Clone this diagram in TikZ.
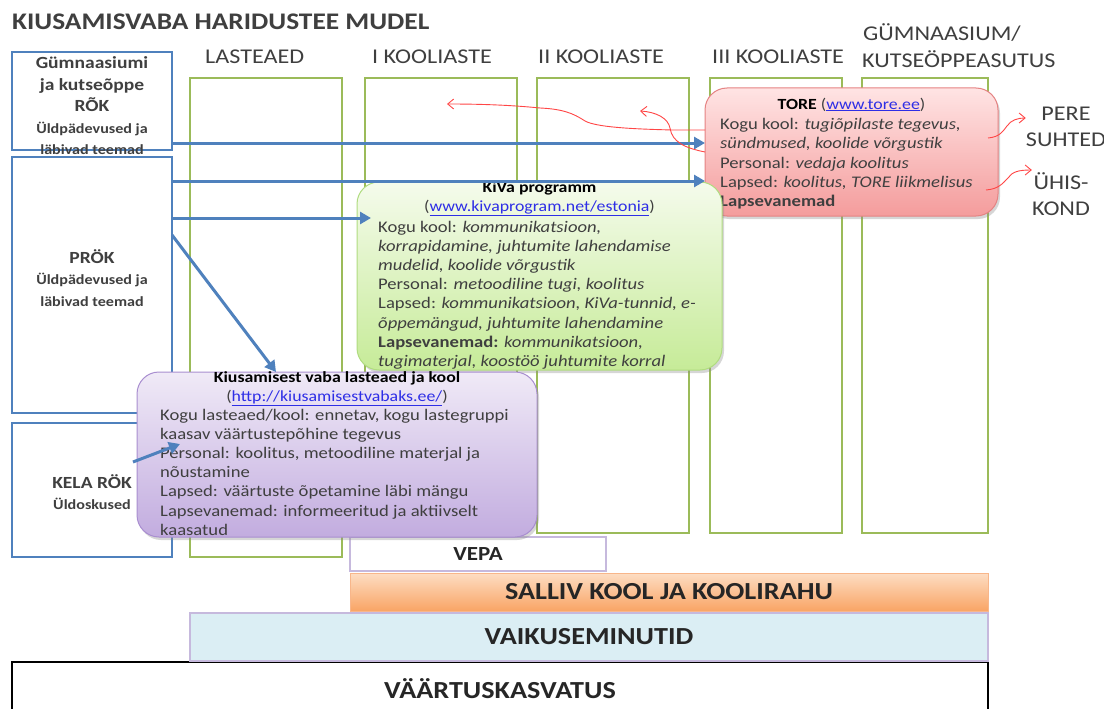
\documentclass[tikz,border=0pt]{standalone}
\usepackage{fontspec}
\setmainfont{Carlito}[FakeStretch=1.15]
\usetikzlibrary{arrows.meta,positioning,shadows,calc}
\definecolor{mblue}{HTML}{4F81BD}
\definecolor{mgreen}{HTML}{9BBB59}
\definecolor{mtext}{HTML}{3F3F3F}
\definecolor{mlink}{HTML}{2E2EE6}
\definecolor{mred}{HTML}{FF4646}
\definecolor{toretop}{HTML}{FFE4E4}\definecolor{torebot}{HTML}{F49C9C}\definecolor{torebd}{HTML}{E58383}
\definecolor{kivatop}{HTML}{F5FBEC}\definecolor{kivabot}{HTML}{C6EB98}\definecolor{kivabd}{HTML}{B0DC80}
\definecolor{kvltop}{HTML}{F0EAF7}\definecolor{kvlbot}{HTML}{C2ACDF}\definecolor{kvlbd}{HTML}{A98ED0}
\definecolor{sallivtop}{HTML}{FDDDC3}\definecolor{sallivbot}{HTML}{F9A465}\definecolor{sallivbd}{HTML}{F8B68A}
\definecolor{vaikfill}{HTML}{DBEEF4}\definecolor{lilabd}{HTML}{C6B9DD}
\newcommand{\fsz}[2]{\fontsize{#1}{#2}\selectfont}
\newcommand{\weblink}[1]{\textcolor{mlink}{\underline{#1}}}

\begin{document}
\begin{tikzpicture}[x=1pt,y=-1pt,
	col/.style={draw=mgreen,line width=2.5pt,inner sep=0pt,outer sep=0pt,anchor=north west},
	lbox/.style={draw=mblue,line width=2.5pt,inner sep=0pt,outer sep=0pt,anchor=north west},
	head/.style={anchor=base west,inner sep=0pt,text=mtext,font=\fsz{21}{26}},
	ltext/.style={align=center,inner sep=0pt,text=mtext,font=\fsz{17}{21.5}\bfseries},
	card/.style={rounded corners=22pt,line width=1pt,inner sep=0pt,outer sep=0pt,
		drop shadow={shadow xshift=2pt,shadow yshift=-3pt,opacity=.35,fill=black!45}},
	ctitle/.style={anchor=north,align=center,inner sep=0pt,text=mtext,font=\fsz{15.5}{19.2}},
	cbody/.style={anchor=north west,align=left,inner sep=0pt,text=mtext,font=\fsz{16.2}{19.2}},
	bar/.style={anchor=north west,inner sep=0pt,outer sep=0pt,text=black!85,font=\fsz{24.5}{28}\bfseries},
	barrow/.style={draw=mblue,line width=3pt,-{Triangle[length=11pt,width=12pt]}},
	rarrow/.style={draw=mred,line width=.9pt,-{Straight Barb[length=6pt,width=10pt]}}]
	\fill[white] (0,0) rectangle (1104,709); \useasboundingbox (0,0) rectangle (1104,709);
	\node[anchor=base west,inner sep=0pt,text=mtext,font=\fsz{23.8}{28}\bfseries] (title) at (12,30) {KIUSAMISVABA HARIDUSTEE MUDEL};
	\node[head] (hlast) at (205,64) {LASTEAED};
	\node[head] (hk1) at (372,64) {I KOOLIASTE};
	\node[head] (hk2) at (538,64) {II KOOLIASTE};
	\node[head] (hk3) at (712,64) {III KOOLIASTE};
	\node[head] (hgym) at (863,41) {GÜMNAASIUM/};
	\node[head] (hkutse) at (862,67) {KUTSEÖPPEASUTUS};
	\node[col,minimum width=152pt,minimum height=479pt] (lasteaed) at (190,78) {};
	\node[col,minimum width=152pt,minimum height=455pt] (kool1) at (365,78) {};
	\node[col,minimum width=152pt,minimum height=455pt] (kool2) at (537,78) {};
	\node[col,minimum width=132pt,minimum height=455pt] (kool3) at (710,78) {};
	\node[col,minimum width=126pt,minimum height=455pt] (gymcol) at (862,78) {};
	\node[lbox,minimum width=160pt,minimum height=98pt] (gym) at (12,52) {};
	\node[lbox,minimum width=160pt,minimum height=256pt] (prok) at (12,157) {};
	\node[lbox,minimum width=160pt,minimum height=134pt] (kela) at (12,423) {};
	\node[ltext] (gymT) at (92,106) {Gümnaasiumi\\ja kutseõppe\\RÕK\\{\fsz{14}{19}Üldpädevused ja}\\{\fsz{14}{19}läbivad teemad}};
	\node[ltext] (prokT) at (92,278) {PRÖK\\{\fsz{14}{19}Üldpädevused ja}\\{\fsz{14}{19}läbivad teemad}};
	\node[ltext] (kelaT) at (92,492) {KELA RÖK\\{\fsz{14}{19}Üldoskused}};
	\node[bar,draw=black,line width=2pt,fill=white,minimum width=976pt,minimum height=54pt] (vaartus) at (12,662) {VÄÄRTUSKASVATUS};
	\node[bar,draw=lilabd,line width=1.5pt,fill=vaikfill,minimum width=798pt,minimum height=48pt] (vaikus) at (190,613) {VAIKUSEMINUTID};
	\node[bar,draw=sallivbd,line width=1pt,top color=sallivtop,bottom color=sallivbot,minimum width=638pt,minimum height=38pt] (salliv) at (350,573) {SALLIV KOOL JA KOOLIRAHU};
	\node[bar,draw=lilabd,line width=1.5pt,fill=white,minimum width=256pt,minimum height=34pt,font=\fsz{20}{24}\bfseries] (vepa) at (350,537) {VEPA};
	\node[card,draw=torebd,top color=toretop,bottom color=torebot,minimum width=293pt,minimum height=128pt] (tore) at (851.5,152) {};
	\node[ctitle] (toreT) at (tore.north |- 0,95.5) {\strut\textbf{\color{black}TORE} (\weblink{www.tore.ee})};
	\node[cbody] (toreB) at (720,116) {\strut Kogu kool: \textit{tugiõpilaste tegevus,}\\\textit{sündmused, koolide võrgustik}\\Personal: \textit{vedaja koolitus}\\Lapsed: \textit{koolitus, TORE liikmelisus}\\\textbf{Lapsevanemad}};
	\node[card,draw=kivabd,top color=kivatop,bottom color=kivabot,minimum width=365pt,minimum height=188pt] (kiva) at (539.5,276) {};
	\node[ctitle] (kivaT) at (kiva.north |- 0,178.5) {\strut\textbf{\color{black}KiVa programm}\\(\weblink{www.kivaprogram.net/estonia})};
	\node[cbody] (kivaB) at (378,218.5) {\strut Kogu kool: \textit{kommunikatsioon,}\\\textit{korrapidamine, juhtumite lahendamise}\\\textit{mudelid, koolide võrgustik}\\Personal: \textit{metoodiline tugi, koolitus}\\Lapsed: \textit{kommunikatsioon, KiVa-tunnid, e-}\\\textit{õppemängud, juhtumite lahendamine}\\\textbf{Lapsevanemad:} \textit{kommunikatsioon,}\\\textit{tugimaterjal, koostöö juhtumite korral}};
	\node[card,draw=kvlbd,top color=kvltop,bottom color=kvlbot,minimum width=400pt,minimum height=165pt] (kvl) at (337,454.5) {};
	\node[ctitle] (kvlT) at (kvl.north |- 0,368.5) {\strut\textbf{\color{black}Kiusamisest vaba lasteaed ja kool}\\(\weblink{http://kiusamisestvabaks.ee/})};
	\node[cbody] (kvlB) at (160,406.5) {\strut Kogu lasteaed/kool: ennetav, kogu lastegruppi\\kaasav väärtustepõhine tegevus\\Personal: koolitus, metoodiline materjal ja\\nõustamine\\Lapsed: väärtuste õpetamine läbi mängu\\Lapsevanemad: informeeritud ja aktiivselt\\kaasatud};
	\draw[barrow] (gym.east |- 0,143) -- (tore.west |- 0,143);
	\draw[barrow] (prok.east |- 0,181) -- (tore.west |- 0,181);
	\draw[barrow] (prok.east |- 0,218) -- ($(kiva.west |- 0,218)+(14,0)$);
	\draw[barrow] (prok.east |- 0,235) -- (kvl.north -| 276,0);
	\draw[barrow] ($(kela.east |- 0,462)+(-39,0)$) -- ($(kvl.west |- 0,444)+(43,0)$);
	\node[align=center,inner sep=0pt,text=mtext,font=\fsz{21}{26}] (pere) at (1066,127) {PERE\\SUHTED};
	\node[align=center,inner sep=0pt,text=mtext,font=\fsz{21}{26}] (yhis) at (1061,194) {ÜHIS-\\KOND};
	\coordinate (tipA) at (447,104); \coordinate (tipB) at (640,111);
	\draw[rarrow] (tore.west |- 0,130) -- (673,130) .. controls (630,129) and (596,127) .. (585,121) .. controls (573,113) and (562,109) .. (540,108) .. controls (510,105) and (480,104) .. (tipA);
	\draw[rarrow] (tore.west |- 0,152) .. controls (685,148) and (672,142) .. (670,128) .. controls (668,118) and (656,112) .. (tipB);
	\draw[rarrow] ($(tore.east |- 0,138)+(-10,0)$) .. controls (1000,137) and (1003,131) .. (1007,126) .. controls (1011,120) and (1018,118) .. (pere.west |- 0,118);
	\draw[rarrow] ($(tore.east |- 0,190)+(-12,0)$) .. controls (999,189) and (1003,183) .. (1008,178) .. controls (1012,172) and (1018,170) .. (yhis.west |- 0,170);
\end{tikzpicture}
\end{document}
